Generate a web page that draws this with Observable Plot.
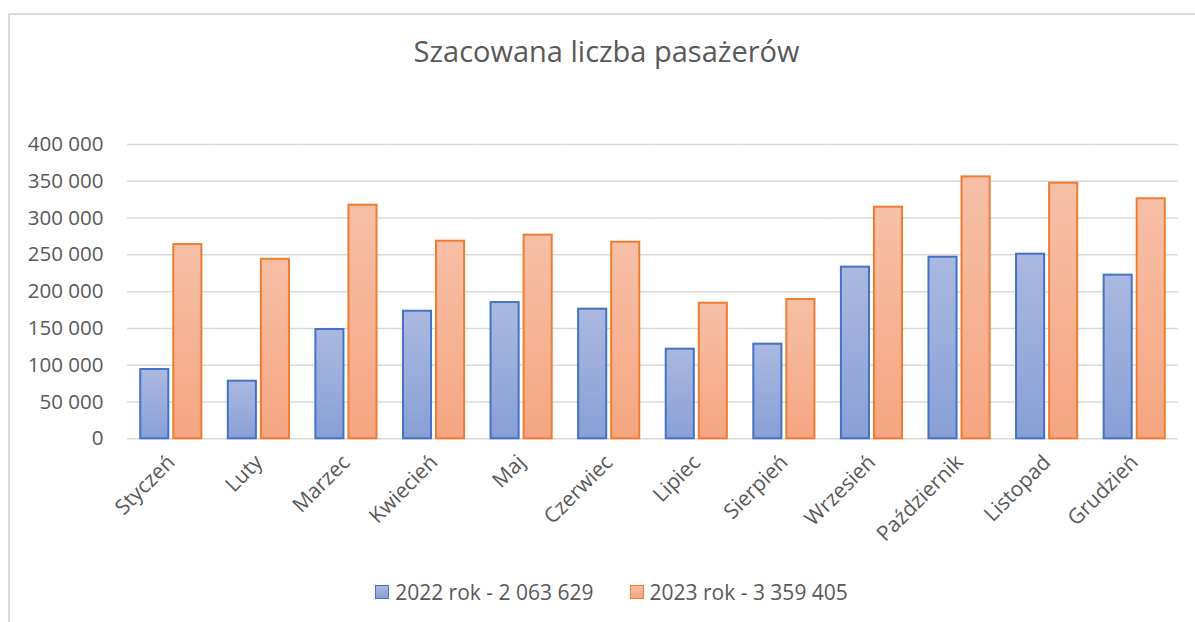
<!DOCTYPE html>
<html>
<head>
<meta charset="utf-8">
<script src="https://cdn.jsdelivr.net/npm/d3@7"></script>
<script src="https://cdn.jsdelivr.net/npm/@observablehq/plot@0.6"></script>
<style>
  html, body { margin: 0; padding: 0; background: #fff; }
  body { width: 1195px; height: 622px; position: relative; overflow: hidden; font-family: "Open Sans", sans-serif; color: #595959; }
  #frame { position: absolute; left: 8px; top: 13px; width: 1300px; height: 700px; border-top: 2px solid #d9d9d9; border-left: 2px solid #d9d9d9; }
  #title { position: absolute; left: 0; top: 31px; width: 1195px; padding-left: 18px; box-sizing: border-box; text-align: center; font-size: 29px; color: #595959; }
  #chart { position: absolute; left: 0; top: 0; }
  #legend { position: absolute; left: 0; top: 578px; width: 1195px; padding-left: 28px; box-sizing: border-box; display: flex; justify-content: center; gap: 36px; font-size: 21px; color: #595959; }
  .item { display: flex; align-items: center; gap: 6px; }
  .sw { width: 12px; height: 12px; border: 1.5px solid; }
</style>
</head>
<body>
<div id="frame"></div>
<div id="title">Szacowana liczba pasażerów</div>
<div id="chart"></div>
<div id="legend"></div>
<script>
const months = ["Styczeń","Luty","Marzec","Kwiecień","Maj","Czerwiec","Lipiec","Sierpień","Wrzesień","Październik","Listopad","Grudzień"];
const years = ["2022","2023"];
const v2022 = [94200, 78300, 148500, 173400, 185200, 176200, 121800, 128600, 233300, 246800, 250900, 222400];
const v2023 = [264000, 244000, 317500, 268600, 276800, 267200, 184300, 189300, 314800, 356000, 347400, 326200];
const yTicks = [0, 50000, 100000, 150000, 200000, 250000, 300000, 350000, 400000];
const legendLabels = ["2022 rok - 2 063 629", "2023 rok - 3 359 405"];
const strokes = ["#4472c4", "#ed7d31"];
const gradTop = ["#abb9e1", "#f7c0a6"];
const gradBottom = ["#889fd6", "#f5a581"];

const rows2022 = months.map((m, i) => ({month: m, year: years[0], value: v2022[i]}));
const rows2023 = months.map((m, i) => ({month: m, year: years[1], value: v2023[i]}));

const fmt = d => d3.format(",")(d).replace(/,/g, " ");

const svg = Plot.plot({
  width: 1195,
  height: 560,
  marginTop: 144,
  marginBottom: 121.7,
  marginLeft: 127,
  marginRight: 17,
  style: {fontFamily: "'Open Sans', sans-serif", background: "transparent", color: "#595959"},
  fx: {domain: months, padding: 0, round: false, label: null},
  x: {domain: years, paddingInner: 0.15, paddingOuter: 0.4, round: false, axis: null},
  y: {domain: [0, 400000], label: null},
  marks: [
    Plot.gridY(yTicks, {stroke: "#d9d9d9", strokeOpacity: 1, strokeWidth: 1.5}),
    Plot.axisY(yTicks, {tickSize: 0, tickPadding: 24, tickFormat: fmt, fontSize: 20.5, fill: "#595959", label: null}),
    Plot.axisFx({anchor: "bottom", tickRotate: -45, tickSize: 0, tickPadding: 20, fontSize: 21, fill: "#595959", label: null}),
    Plot.barY(rows2022, {fx: "month", x: "year", y: "value", fill: "url(#g2022)", stroke: strokes[0], strokeWidth: 2}),
    Plot.barY(rows2023, {fx: "month", x: "year", y: "value", fill: "url(#g2023)", stroke: strokes[1], strokeWidth: 2})
  ]
});

const defs = d3.select(svg).insert("defs", ":first-child");
years.forEach((y, i) => {
  const g = defs.append("linearGradient").attr("id", "g" + y).attr("x1", 0).attr("y1", 0).attr("x2", 0).attr("y2", 1);
  g.append("stop").attr("offset", "0%").attr("stop-color", gradTop[i]);
  g.append("stop").attr("offset", "100%").attr("stop-color", gradBottom[i]);
});
document.getElementById("chart").appendChild(svg);

const legend = d3.select("#legend");
legendLabels.forEach((lab, i) => {
  const it = legend.append("div").attr("class", "item");
  it.append("div").attr("class", "sw")
    .style("border-color", strokes[i])
    .style("background", `linear-gradient(${gradTop[i]}, ${gradBottom[i]})`);
  it.append("span").text(lab);
});
</script>
</body>
</html>
